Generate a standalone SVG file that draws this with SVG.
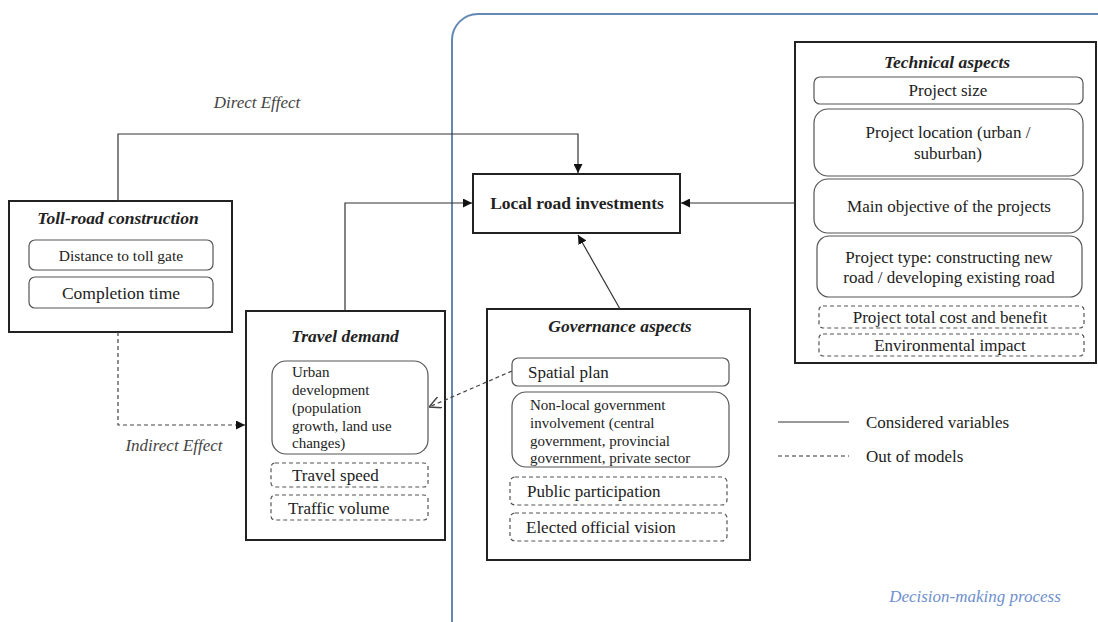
<svg xmlns="http://www.w3.org/2000/svg" width="1098" height="622" viewBox="0 0 1098 622">
<defs>
<style>
text{font-family:"Liberation Serif","Times New Roman",serif;fill:#222;}
.t{font-weight:bold;font-style:italic;font-size:17.5px;text-anchor:middle;}
.c{font-size:17px;text-anchor:middle;}
.m{font-size:17px;}
.l{font-size:15px;}
.box{fill:#fff;stroke:#222;stroke-width:2;}
.sub{fill:#fff;stroke:#555;stroke-width:1.2;}
.dsub{fill:#fff;stroke:#555;stroke-width:1.2;stroke-dasharray:4 3;}
.conn{fill:none;stroke:#333;stroke-width:1.2;}
.dash{fill:none;stroke:#444;stroke-width:1.2;stroke-dasharray:4 3;}
.lbl{font-style:italic;font-size:17px;fill:#444;text-anchor:middle;}
</style>
<marker id="ah" viewBox="0 0 10 10" refX="10" refY="5" markerWidth="9" markerHeight="9" markerUnits="userSpaceOnUse" orient="auto"><path d="M0,0 L10,5 L0,10 z" fill="#111"/></marker>
<marker id="oh" viewBox="0 0 10 10" refX="10" refY="5" markerWidth="12" markerHeight="12" markerUnits="userSpaceOnUse" orient="auto"><path d="M0,0 L10,5 L0,10" fill="none" stroke="#444" stroke-width="1.2"/></marker>
</defs>
<rect width="1098" height="622" fill="#fff"/>
<g id="decision-process">
<rect x="452" y="14" width="670" height="640" rx="26" fill="none" stroke="#6489b4" stroke-width="2"/>
<text x="975" y="602" style="font-style:italic;font-size:17px;fill:#6f8fd0;" text-anchor="middle">Decision-making process</text>
</g>
<g id="local-road">
<rect class="box" x="473" y="174" width="207" height="59"/>
<text x="577" y="209" style="font-weight:bold;font-size:17.5px;" text-anchor="middle">Local road investments</text>
</g>
<g id="toll-road">
<rect class="box" x="9" y="201" width="223" height="131"/>
<text class="t" x="118" y="224">Toll-road construction</text>
<rect class="sub" x="29" y="240" width="184" height="30" rx="6"/>
<text x="121" y="261" style="font-size:15.5px;" text-anchor="middle">Distance to toll gate</text>
<rect class="sub" x="29" y="277" width="184" height="31" rx="6"/>
<text x="121" y="299" style="font-size:17.5px;" text-anchor="middle">Completion time</text>
</g>
<g id="travel-demand">
<rect class="box" x="246" y="311" width="199" height="229"/>
<text class="t" x="345" y="342">Travel demand</text>
<rect class="sub" x="272" y="361" width="156" height="93" rx="14"/>
<text class="l" x="292" y="377">Urban</text>
<text class="l" x="292" y="395">development</text>
<text class="l" x="292" y="413">(population</text>
<text class="l" x="292" y="431">growth, land use</text>
<text class="l" x="292" y="448">changes)</text>
<rect class="dsub" x="271" y="463" width="157" height="24" rx="4"/>
<text class="m" x="292" y="481">Travel  speed</text>
<rect class="dsub" x="271" y="495" width="157" height="25" rx="4"/>
<text class="m" x="288" y="514">Traffic volume</text>
</g>
<g id="governance">
<rect class="box" x="487" y="309" width="263" height="251"/>
<text class="t" x="620" y="332">Governance aspects</text>
<rect class="sub" x="512" y="358" width="217" height="28" rx="6"/>
<text class="m" x="528" y="378">Spatial plan</text>
<rect class="sub" x="512" y="392" width="217" height="75" rx="14"/>
<text class="l" x="530" y="410">Non-local government</text>
<text class="l" x="530" y="428">involvement  (central</text>
<text class="l" x="530" y="446">government, provincial</text>
<text class="l" x="530" y="463">government, private sector</text>
<rect class="dsub" x="510" y="477" width="217" height="28" rx="5"/>
<text class="m" x="527" y="497">Public participation</text>
<rect class="dsub" x="510" y="513" width="217" height="28" rx="5"/>
<text class="m" x="526" y="533">Elected official vision</text>
</g>
<g id="technical">
<rect class="box" x="795" y="42" width="301" height="321"/>
<text class="t" x="947" y="68">Technical aspects</text>
<rect class="sub" x="814" y="77" width="269" height="27" rx="6"/>
<text class="c" x="948" y="96">Project size</text>
<rect class="sub" x="814" y="109" width="269" height="67" rx="14"/>
<text class="c" x="948" y="138">Project location (urban /</text>
<text class="c" x="948" y="159">suburban)</text>
<rect class="sub" x="814" y="179" width="269" height="54" rx="14"/>
<text class="c" x="949" y="212">Main objective of the projects</text>
<rect class="sub" x="817" y="236" width="265" height="61" rx="12"/>
<text class="c" x="949" y="263">Project type: constructing new</text>
<text class="c" x="949" y="283">road / developing existing road</text>
<rect class="dsub" x="819" y="306" width="265" height="22" rx="4"/>
<text class="c" x="950" y="323">Project total cost and benefit</text>
<rect class="dsub" x="819" y="334" width="265" height="22" rx="4"/>
<text class="c" x="950" y="351">Environmental impact</text>
</g>
<g id="legend">
<line x1="778" y1="422" x2="849" y2="422" stroke="#333" stroke-width="1.2"/>
<text class="m" x="866" y="428">Considered variables</text>
<line x1="778" y1="456" x2="849" y2="456" stroke="#333" stroke-width="1.2" stroke-dasharray="4 3"/>
<text class="m" x="866" y="462">Out of models</text>
</g>
<g id="connectors">
<polyline class="conn" points="118,201 118,134 578,134 578,173" marker-end="url(#ah)"/>
<polyline class="conn" points="345,311 345,203 472,203" marker-end="url(#ah)"/>
<line class="conn" x1="795" y1="203" x2="681" y2="203" marker-end="url(#ah)"/>
<line class="conn" x1="620" y1="309" x2="578" y2="235" marker-end="url(#ah)"/>
<polyline class="dash" points="118,332 118,425 245,425" marker-end="url(#ah)"/>
<line class="dash" x1="512" y1="371" x2="429" y2="407" marker-end="url(#oh)"/>
<text class="lbl" x="257" y="108">Direct Effect</text>
<text class="lbl" x="174" y="451">Indirect Effect</text>
</g>
</svg>
